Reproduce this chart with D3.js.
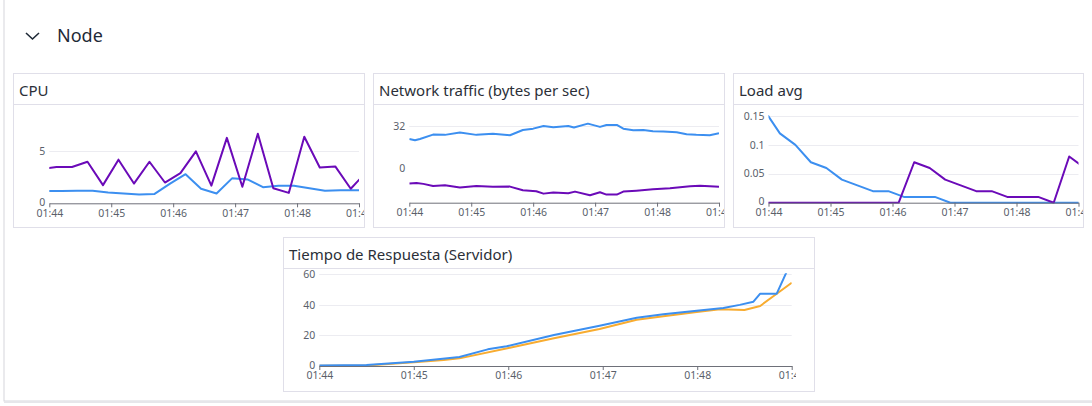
<!DOCTYPE html>
<html>
<head>
<meta charset="utf-8">
<script src="https://cdn.jsdelivr.net/npm/d3@7"></script>
<style>
  html, body { margin: 0; padding: 0; background: #fff; }
  svg { display: block; font-family: "Noto Sans", sans-serif; }
</style>
</head>
<body>
<svg id="chart" width="1092" height="406"></svg>
<script>
// ---------- DATA (times are seconds after 01:44:00) ----------
const xTickMinutes = ["01:44", "01:45", "01:46", "01:47", "01:48", "01:49"];

// CPU
const cpuPurpleSec = [-8, 7, 22, 37, 52, 67, 82, 97, 112, 127, 142, 157, 172, 187, 202, 217, 232, 247, 262, 277, 292, 307];
const cpuPurpleVal = [3.3, 3.5, 3.5, 4.0, 1.75, 4.2, 1.9, 4.0, 2.0, 2.9, 5.0, 1.7, 6.3, 1.6, 6.7, 1.45, 1.0, 6.4, 3.45, 3.55, 1.4, 3.0];
const cpuBlueSec = [-3, 12, 27, 42, 57, 72, 87, 102, 117, 132, 147, 162, 177, 192, 207, 222, 237, 252, 267, 282, 297, 312];
const cpuBlueVal = [1.18, 1.18, 1.22, 1.2, 1.05, 0.95, 0.85, 0.9, 1.9, 2.8, 1.4, 0.95, 2.4, 2.3, 1.55, 1.7, 1.7, 1.45, 1.2, 1.25, 1.25, 1.25];
const cpuYTicks = [0, 5];

// Network traffic
const netBlueSec = [0, 5.5, 10.3, 23, 34.5, 49, 65, 81, 97.5, 110, 120, 130, 139.5, 154, 159.5, 173, 184.7, 191, 201, 207.3, 217, 226.7, 236, 246, 259, 268.6, 278, 291, 300];
const netBlueVal = [22.4, 21.4, 22.4, 25.6, 25.4, 27.1, 25.4, 26.3, 25.1, 29.0, 30.0, 32.0, 31.0, 32.0, 30.8, 33.7, 31.3, 32.7, 32.7, 30.0, 28.8, 29.0, 28.1, 27.8, 27.3, 25.8, 25.4, 25.1, 26.6];
const netPurpleSec = [0, 7, 13.6, 23, 34.5, 49, 65, 81, 97.5, 110, 123, 130, 139.5, 154, 160.5, 175, 184.7, 191, 201, 207.3, 220, 236, 252.5, 272, 281.6, 291, 300];
const netPurpleVal = [-10.6, -10.1, -10.8, -12.3, -11.8, -13.5, -12.3, -13.0, -12.8, -15.5, -16.2, -18.0, -17.2, -17.7, -16.5, -19.2, -17.0, -18.7, -18.7, -16.5, -15.8, -14.8, -14.0, -12.6, -12.1, -12.6, -13.0];
const netYTicks = [0, 32];

// Load avg
const loadBlueSec = [-4, 11, 26, 41, 56, 71, 86, 101, 116, 131, 146, 161, 176, 191, 206, 221, 236, 251, 266, 281, 296, 311];
const loadBlueVal = [0.16, 0.12, 0.10, 0.07, 0.06, 0.04, 0.03, 0.02, 0.02, 0.01, 0.01, 0.01, 0, 0, 0, 0, 0, 0, 0, 0, 0, 0];
const loadPurpleSec = [-9, 6, 21, 36, 51, 66, 81, 96, 111, 126, 141, 156, 171, 186, 201, 216, 231, 246, 261, 276, 291, 306];
const loadPurpleVal = [0, 0, 0, 0, 0, 0, 0, 0, 0, 0, 0.07, 0.06, 0.04, 0.03, 0.02, 0.02, 0.01, 0.01, 0.01, 0, 0.08, 0.06];
const loadYTicks = [0, 0.05, 0.1, 0.15];

// Tiempo de Respuesta (Servidor)
const respBlueSec = [0, 30, 60, 89, 107, 119, 149, 178, 201.6, 218.5, 239.7, 256.6, 267, 275.7, 280, 290.5, 304];
const respBlueVal = [0.4, 0.7, 2.8, 5.9, 10.9, 12.9, 20.3, 26.4, 31.6, 33.8, 36.2, 38, 40, 42.1, 47.3, 47.3, 78];
const respOrangeSec = [0, 30, 60, 79, 89, 121, 149, 178, 201.6, 218.5, 239.7, 254.5, 270, 280, 290.5, 300];
const respOrangeVal = [0.2, 0.4, 2.4, 3.9, 5.0, 12, 18.1, 24.2, 30.3, 32.5, 35.3, 37.1, 36.7, 39.3, 47.3, 54.5];
const respYTicks = [0, 20, 40, 60];

// ---------- STYLE ----------
const BLUE = "#3c8ff0", PURPLE = "#6b0ab8", ORANGE = "#f8ac30";
const BORDER = "#e0dfe9", GRID = "#ececf1", AXIS = "#6e7079", LABEL = "#5a5f6b";

const svg = d3.select("#chart");
const base = new Date(2024, 0, 1, 1, 44, 0);
const toDate = s => new Date(base.getTime() + s * 1000);
const tStart = toDate(0), tEnd = toDate(300);

// outer container
svg.append("rect").attr("x", 4).attr("y", -2).attr("width", 1100).attr("height", 403)
  .attr("fill", "#fff").attr("stroke", "#d6d6dc").attr("stroke-width", 1);
svg.append("line").attr("x1", 4).attr("x2", 1092).attr("y1", 402).attr("y2", 402)
  .attr("stroke", "#e6e6ea").attr("stroke-width", 2);

// header
svg.append("path").attr("d", "M26,33 L32.5,39 L39,33")
  .attr("fill", "none").attr("stroke", "#1f2a37").attr("stroke-width", 1.6);
svg.append("text").attr("x", 57).attr("y", 42).attr("font-size", 18)
  .attr("fill", "#1f2a37").text("Node");

let clipId = 0;
function panel(cfg) {
  const p = svg.append("g").attr("transform", `translate(${cfg.x},${cfg.y})`);
  p.append("rect").attr("x", 0.5).attr("y", 0.5).attr("width", cfg.w - 1).attr("height", cfg.h - 1)
    .attr("fill", "#fff").attr("stroke", BORDER);
  p.append("line").attr("x1", 0.5).attr("x2", cfg.w - 0.5).attr("y1", 31.5).attr("y2", 31.5).attr("stroke", BORDER);
  p.append("text").attr("x", 6).attr("y", 23).attr("font-size", 15).attr("fill", "#2b2f38").text(cfg.title);

  // chart canvas (clips its content, like the original canvas)
  const g = p.append("svg").attr("x", 0).attr("y", 32).attr("width", cfg.cw).attr("height", cfg.h - 33)
    .attr("overflow", "hidden")
    .append("g").attr("transform", "translate(0,-32)");

  const x = d3.scaleTime().domain([tStart, tEnd]).range([cfg.x0, cfg.x1]);
  const y = d3.scaleLinear().domain(cfg.yDomain).range([cfg.yB, cfg.yT]);

  // grid
  g.append("g").selectAll("line").data(cfg.yTicks.filter(v => v !== 0)).join("line")
    .attr("x1", cfg.x0).attr("x2", cfg.x1)
    .attr("y1", d => Math.round(y(d)) + 0.5).attr("y2", d => Math.round(y(d)) + 0.5)
    .attr("stroke", GRID);
  // y labels
  g.append("g").selectAll("text").data(cfg.yTicks).join("text")
    .attr("x", cfg.x0 - 4).attr("y", d => y(d) - (d === 0 ? 1 : 0)).attr("dy", "0.35em")
    .attr("text-anchor", "end").attr("font-size", 10.5).attr("fill", LABEL)
    .text(d => cfg.yFmt ? cfg.yFmt(d) : d);

  // lines
  const cid = "clip" + (clipId++);
  g.append("clipPath").attr("id", cid).append("rect")
    .attr("x", cfg.x0).attr("y", cfg.yT - 1).attr("width", cfg.x1 - cfg.x0).attr("height", cfg.yB - cfg.yT + 2);
  const line = d3.line().x(d => x(toDate(d[0]))).y(d => y(d[1]));
  const lg = g.append("g").attr("clip-path", `url(#${cid})`);
  cfg.series.forEach(s => {
    lg.append("path").datum(d3.zip(s.sec, s.val)).attr("d", line)
      .attr("fill", "none").attr("stroke", s.color).attr("stroke-width", 2)
      .attr("stroke-linejoin", "round");
  });

  // x axis
  const ax = g.append("g").attr("transform", `translate(0,${cfg.yB})`)
    .call(d3.axisBottom(x).ticks(d3.timeMinute.every(1)).tickSize(4).tickSizeOuter(0)
      .tickFormat((d, i) => xTickMinutes[i]));
  ax.select(".domain").attr("stroke", AXIS);
  ax.selectAll(".tick line").attr("stroke", AXIS);
  ax.selectAll(".tick text").attr("fill", LABEL).attr("font-size", 10.5)
    .attr("font-family", "Noto Sans, sans-serif").attr("y", 6).attr("dy", "0.71em");
}

panel({
  x: 13, y: 73, w: 352, h: 155, cw: 351, title: "CPU",
  x0: 36.3, x1: 346, yB: 130.3, yT: 42, yDomain: [0, 8.5], yTicks: cpuYTicks,
  series: [
    { sec: cpuBlueSec, val: cpuBlueVal, color: BLUE },
    { sec: cpuPurpleSec, val: cpuPurpleVal, color: PURPLE }
  ]
});
panel({
  x: 373, y: 73, w: 352, h: 155, cw: 351, title: "Network traffic (bytes per sec)",
  x0: 36.3, x1: 346, yB: 129.7, yT: 42.1, yDomain: [-24.7, 40], yTicks: netYTicks,
  series: [
    { sec: netBlueSec, val: netBlueVal, color: BLUE },
    { sec: netPurpleSec, val: netPurpleVal, color: PURPLE }
  ]
});
panel({
  x: 733, y: 73, w: 351, h: 155, cw: 350, title: "Load avg",
  x0: 35.5, x1: 345.5, yB: 129.7, yT: 43, yDomain: [0, 0.15], yTicks: loadYTicks,
  yFmt: d => d === 0 ? "0" : String(+d.toFixed(2)),
  series: [
    { sec: loadBlueSec, val: loadBlueVal, color: BLUE },
    { sec: loadPurpleSec, val: loadPurpleVal, color: PURPLE }
  ]
});
panel({
  x: 283, y: 237, w: 532, h: 155, cw: 513, title: "Tiempo de Respuesta (Servidor)",
  x0: 36.3, x1: 508.7, yB: 129, yT: 37.3, yDomain: [0, 60], yTicks: respYTicks,
  series: [
    { sec: respOrangeSec, val: respOrangeVal, color: ORANGE },
    { sec: respBlueSec, val: respBlueVal, color: BLUE }
  ]
});
</script>
</body>
</html>
